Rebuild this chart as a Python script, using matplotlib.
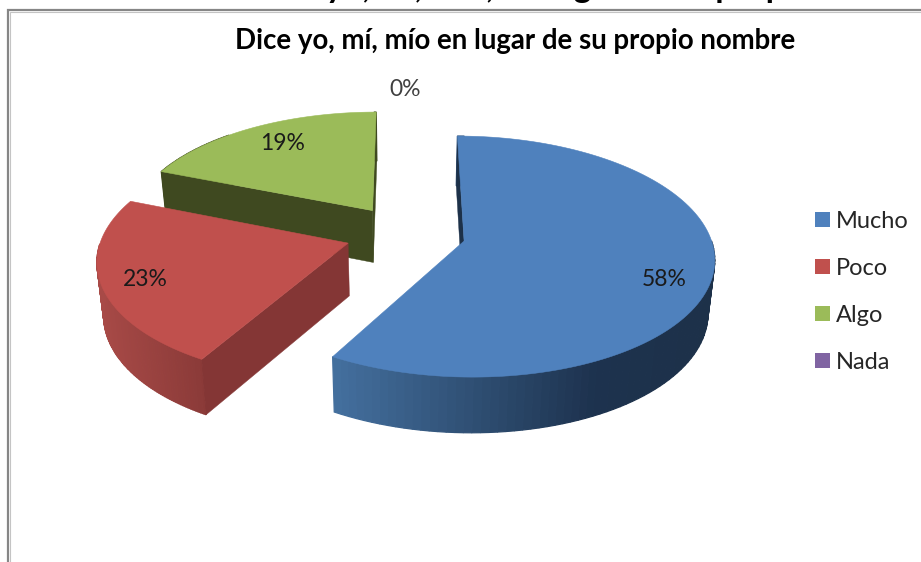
import numpy as np
import matplotlib
matplotlib.use('Agg')
import matplotlib.pyplot as plt
from matplotlib.colors import to_rgb
from matplotlib.patches import Patch, Polygon
from matplotlib.path import Path

# encuesta: dice yo, mi, mio en lugar de su propio nombre
categories = ['Mucho', 'Poco', 'Algo', 'Nada']
# the labels are rounded
values = [58.3, 22.7, 19.0, 0]
value_labels = ['58%', '23%', '19%', '0%']
colors = ['#4f81bd', '#c0504d', '#9bbb59', '#8064a2']
cut_colors = ['#1d3149', '#843635', '#3f4920', '#3c2f52']
title = 'Dice yo, mí, mío en lugar de su propio nombre'
back_title = 'Dice yo, mí, mío, en lugar de su propio nombre'

plt.rcParams['font.family'] = ['Lato', 'DejaVu Sans']

# camera for the fake 3d pie, everything in screen pixels
VX, VY = 405.5, 233.6
A, B, P = 245.5, 116.6, 0.128
EXPLODE = 0.245


def project(x, y, bottom=False):
    w = 1 + P * y
    sx = A * x / w
    sy = B * y / w
    if bottom:
        return VX + sx * 0.978, VY - sy + 52.5 - 3 * y
    return VX + sx, VY - sy


def rim_color(i, sx):
    # side of the pie gets darker from left to right
    stops = {
        0: ([335, 600, 716], ['#44709f', '#1d324e', '#1d3149']),
        1: ([97, 205, 350], ['#a84a47', '#8a3a38', '#8a3a38']),
        2: ([160, 375, 400], ['#3f4920', '#3f4920', '#3f4920']),
        3: ([0, 900, 921], ['#4c3b62', '#4c3b62', '#4c3b62']),
    }[i]
    rgb = np.array([to_rgb(c) for c in stops[1]])
    return [np.interp(sx, stops[0], rgb[:, k]) for k in range(3)]


fig = plt.figure(figsize=(9.21, 5.62), dpi=100)
ax = fig.add_axes([0, 0, 1, 1])
ax.set_xlim(0, 921)
ax.set_ylim(562, 0)
ax.axis('off')

# frame of the pasted chart, cut by the screenshot
ax.plot([9.5, 9.5, 921], [562, 11.5, 11.5], color='#c4c4c4', lw=0.8, solid_joinstyle='miter', zorder=1)
ax.plot([8, 8, 921], [562, 10, 10], color='#868686', lw=1.6, solid_joinstyle='miter', zorder=1)

ax.text(250, -2, back_title, fontsize=24, fontweight='bold', color='black', va='baseline', ha='left', zorder=2)

total = sum(values)
bounds = np.cumsum([0] + values) / total * 2 * np.pi

# back slices first
for i in [3, 2, 1, 0]:
    a0, a1 = bounds[i], bounds[i + 1]
    if a1 <= a0:
        continue
    mid = (a0 + a1) / 2
    cx, cy = EXPLODE * np.sin(mid), EXPLODE * np.cos(mid)
    t = np.linspace(a0, a1, 120)
    xs, ys = cx + np.sin(t), cy + np.cos(t)
    z = 10 + (2 - i) * 2

    top = [project(cx, cy)] + [project(a, b) for a, b in zip(xs, ys)]
    top_path = Path(top + [top[0]])

    # outer side, strip by strip, only the part seen from the front
    for k in range(len(t) - 1):
        pts = [project(xs[k], ys[k]), project(xs[k + 1], ys[k + 1]),
               project(xs[k + 1], ys[k + 1], True), project(xs[k], ys[k], True)]
        low = ((pts[2][0] + pts[3][0]) / 2, (pts[2][1] + pts[3][1]) / 2)
        if top_path.contains_point(low):
            continue
        col = rim_color(i, pts[0][0])
        ax.add_patch(Polygon(pts, closed=True, fc=col, ec=col, lw=0.9, zorder=z))

    # cut faces
    for ex, ey in [(xs[0], ys[0]), (xs[-1], ys[-1])]:
        pts = [project(cx, cy), project(ex, ey), project(ex, ey, True), project(cx, cy, True)]
        low = ((pts[2][0] + pts[3][0]) / 2, (pts[2][1] + pts[3][1]) / 2)
        if top_path.contains_point(low):
            continue
        ax.add_patch(Polygon(pts, closed=True, fc=cut_colors[i], ec=cut_colors[i], lw=0.3, zorder=z + 0.5))

    # top face
    ax.add_patch(Polygon(top, closed=True, fc=colors[i], ec=colors[i], lw=0.4, zorder=z + 1))

label_pos = [(664, 280), (145, 280), (283, 143), (405, 89)]
for i in range(len(values)):
    ax.text(label_pos[i][0], label_pos[i][1], value_labels[i], fontsize=16.5, color='#1a1a1a' if i < 3 else '#404040',
            ha='center', va='center', zorder=30)

ax.text(515, 41, title, fontsize=19.9, fontweight='bold', color='black', ha='center', va='center', zorder=30)

handles = [Patch(fc=c, ec='none') for c in colors]
ax.legend(handles, categories, frameon=False, fontsize=17, loc='upper left',
          bbox_to_anchor=(815 / 921, 1 - 211 / 562), borderpad=0, borderaxespad=0,
          handlelength=0.635, handleheight=0.635, handletextpad=0.27, labelspacing=1.1,
          labelcolor='#262626')

fig.savefig('out.png', dpi=100)
